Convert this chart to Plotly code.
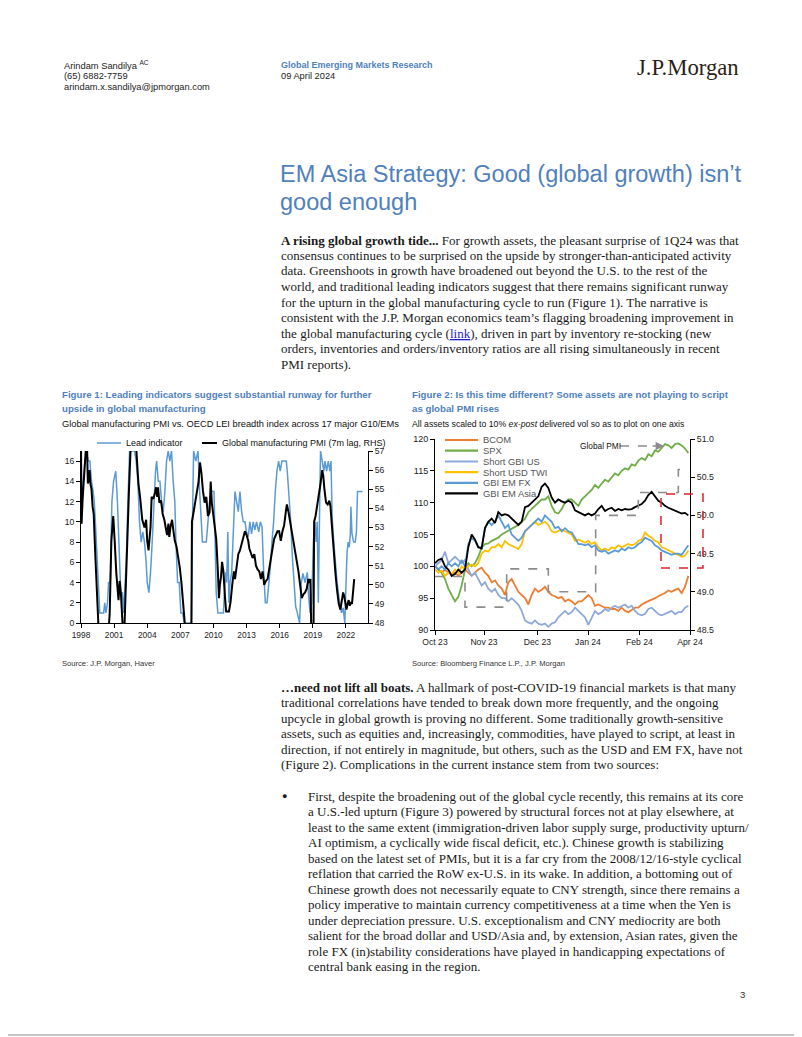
import plotly.graph_objects as go

W, H = 802, 1037          # browser window
OFF = 8                   # page body margin in front of the figure
FW, FH = W - OFF, H - OFF # figure size

# ---------------- Figure 1 data (OECD LEI breadth vs global PMI) ----------------
LEAD_YEAR = [1998.00, 1998.10, 1998.20, 1998.35, 1998.50, 1998.65, 1998.80, 1998.95, 1999.10, 1999.20,
             1999.30, 1999.45, 1999.55, 1999.70, 1999.90, 2000.05, 2000.15, 2000.25, 2000.40, 2000.50,
             2000.65, 2000.80, 2000.95, 2001.15, 2001.30, 2001.45, 2001.60, 2001.75, 2001.85, 2001.95,
             2002.10, 2002.25, 2002.40, 2002.60, 2002.85, 2003.00, 2003.15, 2003.30, 2003.45, 2003.60,
             2003.75, 2003.90, 2004.00, 2004.15, 2004.30, 2004.45, 2004.60, 2004.75, 2004.85, 2005.00,
             2005.15, 2005.30, 2005.45, 2005.60, 2005.75, 2005.90, 2006.05, 2006.20, 2006.35, 2006.50,
             2006.60, 2006.75, 2006.90, 2007.05, 2007.20, 2007.35, 2007.55, 2007.80, 2008.00, 2008.10,
             2008.20, 2008.40, 2008.60, 2008.75, 2008.85, 2009.00, 2009.20, 2009.35, 2009.50, 2009.65,
             2009.80, 2009.90, 2010.05, 2010.15, 2010.25, 2010.40, 2010.60, 2010.90, 2011.00, 2011.10,
             2011.20, 2011.30, 2011.40, 2011.50, 2011.65, 2011.80, 2011.95, 2012.10, 2012.25, 2012.40,
             2012.55, 2012.70, 2012.85, 2013.00, 2013.15, 2013.30, 2013.45, 2013.60, 2013.75, 2013.90,
             2014.10, 2014.25, 2014.40, 2014.55, 2014.70, 2014.85, 2015.00, 2015.15, 2015.30, 2015.45,
             2015.60, 2015.75, 2015.90, 2016.05, 2016.20, 2016.40, 2016.60, 2016.70, 2016.85, 2017.00,
             2017.15, 2017.30, 2017.45, 2017.60, 2017.80, 2017.95, 2018.10, 2018.30, 2018.50, 2018.60,
             2018.75, 2018.90, 2019.05, 2019.20, 2019.30, 2019.40, 2019.50, 2019.60, 2019.70, 2019.85,
             2020.00, 2020.10, 2020.25, 2020.40, 2020.55, 2020.65, 2020.75, 2020.90, 2021.05, 2021.20,
             2021.40, 2021.60, 2021.75, 2021.90, 2022.00, 2022.10, 2022.20, 2022.30, 2022.40, 2022.45,
             2022.55, 2022.70, 2022.85, 2022.95, 2023.05, 2023.25, 2023.50]
LEAD_VAL = [13.5, 12, 14, 16, 17, 16, 16, 14, 13, 12,
            10, 6, 4, 1, 1, 1, 2, 1, 2, 4,
            4, 12, 14, 15, 12, 8, 3, 3, 1, 3,
            6, 12, 17, 17, 17, 16, 14, 10, 8, 9,
            8, 6, 4, 3, 5, 8, 12, 15, 16, 14,
            14, 12, 11, 13, 16, 17, 16, 17, 14, 12,
            8, 4, 4, 1, 1, 0, 0, 0, 0, 10,
            17, 16, 17, 13, 11, 8, 8, 8, 10, 12,
            13, 13, 13, 8, 3, 1, 1, 1, 3, 5,
            4, 9, 2, 4, 5, 9, 13, 12, 11, 13,
            11, 10, 10, 9, 8.5, 10, 8.8, 10, 9.2, 10,
            9, 10, 9.5, 5, 2, 2, 3.6, 5.5, 8, 10,
            13, 15, 16, 15, 16, 16, 16, 14.8, 12.8, 10,
            6.5, 3.9, 1.6, 1, 0, 3.9, 4.9, 4, 5, 3,
            1, 2, 8, 10, 8, 10, 2, 10, 17, 16,
            15, 16, 15, 16, 15, 16, 10.5, 8, 6, 4,
            2.3, 1, 1.5, 0, 3.6, 7, 8, 7.5, 8.8, 11.5,
            8.8, 8, 8, 9, 13, 13, 13]

PMI_YEAR = [1998.00, 1998.05, 1998.15, 1998.25, 1998.35, 1998.45, 1998.55, 1998.62, 1998.70, 1998.78,
            1998.85, 1998.95, 1999.05, 1999.15, 1999.30, 1999.45, 1999.60, 1999.80, 2000.20, 2000.50,
            2000.60, 2000.75, 2000.92, 2001.05, 2001.20, 2001.40, 2001.50, 2001.62, 2001.70, 2001.85,
            2001.95, 2002.05, 2002.15, 2002.25, 2002.35, 2002.50, 2002.75, 2003.00, 2003.10, 2003.20,
            2003.35, 2003.55, 2003.75, 2003.90, 2004.00, 2004.12, 2004.22, 2004.30, 2004.40, 2004.55,
            2004.70, 2004.80, 2004.90, 2004.98, 2005.10, 2005.25, 2005.40, 2005.55, 2005.70, 2005.80,
            2005.92, 2006.00, 2006.10, 2006.25, 2006.40, 2006.50, 2006.65, 2006.80, 2006.95, 2007.10,
            2007.25, 2007.40, 2007.55, 2007.90, 2008.00, 2008.05, 2008.20, 2008.35, 2008.50, 2008.65,
            2008.78, 2008.90, 2009.05, 2009.20, 2009.35, 2009.50, 2009.65, 2009.75, 2009.85, 2010.00,
            2010.10, 2010.25, 2010.40, 2010.50, 2010.58, 2010.68, 2010.78, 2010.90, 2011.05, 2011.15,
            2011.40, 2011.55, 2011.70, 2011.85, 2011.95, 2012.10, 2012.25, 2012.40, 2012.55, 2012.70,
            2012.85, 2013.00, 2013.15, 2013.25, 2013.40, 2013.55, 2013.70, 2013.85, 2014.00, 2014.15,
            2014.30, 2014.45, 2014.60, 2014.75, 2014.90, 2015.05, 2015.20, 2015.35, 2015.50, 2015.65,
            2015.80, 2015.95, 2016.10, 2016.25, 2016.40, 2016.55, 2016.65, 2016.80, 2016.95, 2017.10,
            2017.25, 2017.40, 2017.55, 2017.70, 2017.85, 2018.00, 2018.15, 2018.30, 2018.45, 2018.60,
            2018.70, 2018.78, 2018.85, 2018.95, 2019.05, 2019.12, 2019.25, 2019.40, 2019.55, 2019.70,
            2019.85, 2019.95, 2020.05, 2020.20, 2020.35, 2020.50, 2020.60, 2020.70, 2020.80, 2020.90,
            2021.05, 2021.20, 2021.35, 2021.50, 2021.62, 2021.75, 2021.85, 2021.95, 2022.05, 2022.15,
            2022.25, 2022.35, 2022.45, 2022.55, 2022.65, 2022.75]
PMI_VAL = [57.5, 53.2, 54.5, 55.5, 56.8, 57.2, 57.2, 55.3, 55.5, 56.0,
           55.3, 55.0, 54.1, 53.7, 51.5, 49.7, 47.5, 45, 45, 47.5,
           48.5, 52.3, 53.6, 52.3, 50.6, 49.2, 50.2, 49.5, 48, 47,
           48, 50, 52.3, 53.2, 55, 57.2, 57.5, 57.2, 56.2, 55.3,
           54.6, 53.4, 53.0, 53.4, 52.3, 51.8, 52.5, 53.0, 54.6, 54.5,
           54.8, 55.1, 54.6, 55.1, 54.3, 54.4, 53.7, 53.4, 52.9, 52.6,
           53.2, 52.5, 53.0, 53.4, 52.7, 52.3, 52.0, 51.5, 50.9, 50.1,
           49.2, 48, 46, 46, 47.5, 53.3, 53.8, 54.3, 54.7, 55.4,
           56.4, 55.9, 54.9, 54.3, 54.6, 53.6, 53.8, 55.4, 54.3, 53.6,
           53.1, 52.4, 50.7, 49.3, 50, 50.4, 51.2, 50.7, 49.3, 48.6,
           48.6, 49.1, 50, 50.7, 50.3, 51, 51.6, 51.8, 52.1, 52.4,
           52.8, 52.6, 52.3, 51.9, 51.7, 51.4, 51.6, 51.0, 50.8, 50.7,
           50.3, 50.7, 50.0, 50.2, 50.3, 50.9, 51.4, 51.9, 52.4, 52.6,
           52.8, 52.8, 52.3, 52.8, 53.1, 53.8, 54.2, 53.8, 53.3, 52.9,
           52.3, 51.7, 51.2, 50.7, 50.0, 49.3, 49.5, 49.6, 49.8, 50.3,
           50.1, 50.3, 48.0, 46, 46, 53.3, 53.6, 54.1, 54.6, 55.3,
           56.0, 55.7, 55.0, 54.3, 54.2, 54.4, 54.1, 53.2, 52.3, 51.5,
           50.6, 49.7, 49.0, 48.7, 49.2, 49.6, 49.4, 49.0, 48.7, 49.0,
           49.2, 48.9, 49.1, 49.0, 49.7, 50.3]

F1_XTICKS = [1998, 2001, 2004, 2007, 2010, 2013, 2016, 2019, 2022]

# ---------------- Figure 2 data (rebased assets, Oct-23 to Apr-24) ----------------
BCOM = [100.0, 99.5, 99.0, 99.5, 99.0, 98.8, 99.0, 98.5, 99.0, 99.5,
        99.0, 98.5, 99.0, 99.5, 99.8, 99.0, 98.5, 97.5, 97.8, 97.0,
        96.5, 95.5, 97.5, 98.0, 97.0, 96.0, 95.5, 95.0, 94.0, 95.5,
        96.5, 96.0, 96.3, 96.8, 96.0, 95.5, 95.3, 95.0, 95.2, 94.5,
        94.8, 94.5, 94.0, 94.5, 94.5, 95.0, 95.5, 95.0, 93.8, 94.0,
        93.8, 93.5, 93.5, 93.3, 93.3, 93.0, 93.5, 93.0, 92.8, 93.2,
        93.5, 93.5, 94.0, 94.3, 94.5, 94.8, 95.0, 95.3, 95.5, 95.8,
        96.2, 96.0, 96.3, 96.5, 95.8, 96.8, 98.5]
SPX = [100.0, 99.5, 99.0, 98.0, 96.5, 95.5, 94.5, 95.2, 97.0, 99.5,
       100.5, 100.0, 100.5, 101.5, 103.0, 103.5, 103.6, 104.0, 104.3, 104.5,
       105.0, 105.3, 105.6, 106.0, 106.3, 106.5, 107.0, 107.5, 108.5, 109.0,
       109.5, 110.0, 110.5, 110.5, 111.0, 109.5, 108.5, 108.3, 109.0, 110.0,
       110.5, 110.5, 110.0, 109.5, 110.5, 111.0, 111.5, 112.0, 112.8, 112.3,
       113.0, 113.6, 113.3, 114.0, 114.6, 114.3, 115.0, 115.4, 115.2, 116.0,
       115.8, 116.6, 117.0, 116.7, 117.6, 117.3, 118.2, 118.0, 118.6, 119.2,
       119.0, 118.6, 119.2, 119.3, 119.0, 118.5, 117.8]
SHORT_GBI_US = [100.0, 100.5, 101.0, 102.3, 100.5, 101.0, 101.5, 101.0, 100.5, 101.0,
                99.5, 98.5, 99.0, 98.0, 97.0, 97.5, 96.5, 96.0, 96.5, 95.5,
                95.0, 95.0, 94.5, 95.0, 94.5, 94.0, 93.0, 91.5, 91.2, 91.0,
                91.5, 91.0, 90.8, 91.0, 90.5, 91.0, 91.2, 92.0, 92.5, 93.0,
                92.5, 92.8, 93.5, 93.0, 92.5, 92.0, 90.8, 91.8, 93.0, 92.5,
                92.8, 93.3, 93.0, 93.5, 93.8, 93.5, 93.8, 94.0, 93.5, 93.8,
                93.0, 92.5, 92.3, 92.5, 93.3, 93.5, 93.0, 92.5, 92.3, 92.5,
                92.8, 93.0, 92.5, 92.8, 92.8, 93.5, 93.8]
SHORT_USD_TWI = [99.5, 99.0, 99.3, 98.5, 99.0, 98.8, 99.5, 99.0, 100.0, 99.5,
                 100.0, 100.3, 100.0, 100.5, 102.0, 102.5, 102.3, 103.0, 103.0, 103.5,
                 103.0, 104.0, 103.5, 103.3, 103.0, 102.7, 103.5, 105.5, 106.0, 106.5,
                 107.0, 106.5, 106.8, 107.0, 106.5, 105.5, 105.3, 105.5, 105.8, 105.5,
                 105.2, 105.0, 104.0, 104.2, 104.0, 103.7, 104.0, 103.5, 103.8, 103.0,
                 102.5, 102.8, 102.5, 103.0, 102.8, 103.3, 103.0, 103.3, 103.5, 103.3,
                 103.5, 104.0, 104.2, 105.3, 104.8, 104.5, 104.0, 103.8, 103.0, 102.8,
                 102.5, 102.2, 102.0, 101.8, 101.5, 101.7, 102.5]
GBI_EM_FX = [100.0, 99.5, 100.0, 99.5, 100.5, 100.0, 100.5, 100.0, 101.0, 100.0,
             103.5, 104.5, 104.0, 103.0, 103.0, 106.0, 107.0, 106.5, 107.0, 108.0,
             107.0, 106.0, 106.5, 105.0, 104.5, 104.0, 104.5, 105.5, 106.0, 106.5,
             107.0, 107.5, 107.0, 108.0, 107.5, 107.0, 106.0, 106.2, 105.5, 106.0,
             105.5, 105.3, 104.5, 103.5, 103.5, 103.3, 103.5, 103.0, 103.3, 102.5,
             102.3, 102.5, 102.0, 102.3, 102.5, 102.3, 102.8, 102.5, 103.0, 102.8,
             103.0, 103.5, 103.8, 104.5, 104.3, 104.0, 103.3, 103.0, 102.5, 102.3,
             102.0, 101.8, 102.0, 102.0, 101.8, 102.5, 103.3]
GBI_EM_ASIA = [100.5, 101.0, 101.2, 100.0, 99.5, 98.5, 98.8, 99.5, 99.0, 99.5,
               103.0, 105.0, 104.2, 103.0, 102.8, 106.0, 107.0, 107.5, 106.8, 108.5,
               108.0, 108.2, 108.0, 107.5, 107.0, 106.5, 107.0, 109.3, 109.5, 110.0,
               110.5, 111.0, 112.5, 113.0, 112.3, 110.8, 110.0, 110.5, 110.2, 110.0,
               110.3, 110.0, 108.8, 108.5, 108.3, 108.0, 108.3, 108.0, 108.3, 109.0,
               109.5, 108.7, 109.0, 109.2, 108.7, 109.0, 108.8, 109.0, 108.9, 109.0,
               109.3, 109.5, 109.8, 110.3, 111.2, 111.7, 111.0, 110.3, 110.0, 109.5,
               109.2, 109.0, 108.7, 108.6, 108.3, 108.4, 108.0]
OBS = list(range(len(BCOM)))

# Global PMI monthly prints (Sep-23 .. Mar-24) and the observation where each takes effect
PMI_STEP_OBS = [0, 9, 21.5, 34, 48.2, 61, 73, 76]
PMI_STEP_VAL = [49.2, 48.8, 49.3, 49.0, 50.0, 50.3, 50.6, 50.6]

F2_TICK_OBS = [0, 14.7, 30.7, 45.9, 61.3, 76.5]
F2_TICK_TXT = ["Oct 23", "Nov 23", "Dec 23", "Jan 24", "Feb 24", "Apr 24"]

F2_NAMES = ["BCOM", "SPX", "Short GBI US", "Short USD TWI", "GBI EM FX", "GBI EM Asia"]
F2_COLORS = ["#ED7D31", "#70AD47", "#8EA9DB", "#FFC000", "#5B9BD5", "#000000"]

# ---------------- helpers ----------------
SANS = "Liberation Sans, Arial, sans-serif"
SERIF = "Liberation Serif, Times New Roman, serif"
BLUE_T = "#4F81BD"


def px(x):
    return (x - OFF) / FW


def py(y):
    return 1 - (y - OFF) / FH


annotations = []
shapes = []


def txt(x, y, s, size, color="#000000", family=SANS, xanchor="left"):
    annotations.append(dict(x=px(x), y=py(y), xref="paper", yref="paper", text=s, showarrow=False,
                            xanchor=xanchor, yanchor="middle", align="left",
                            font=dict(size=size, color=color, family=family)))


def hline(x0, x1, y, color, width, dash="solid"):
    shapes.append(dict(type="line", xref="paper", yref="paper", x0=px(x0), x1=px(x1), y0=py(y), y1=py(y),
                       line=dict(color=color, width=width, dash=dash)))


fig = go.Figure()

# Figure 1 traces
fig.add_trace(go.Scatter(x=LEAD_YEAR, y=LEAD_VAL, mode="lines", line=dict(color="#5B9BD5", width=1.5),
                         xaxis="x", yaxis="y", name="Lead indicator"))
fig.add_trace(go.Scatter(x=PMI_YEAR, y=PMI_VAL, mode="lines", line=dict(color="#000000", width=2),
                         xaxis="x", yaxis="y2", name="Global manufacturing PMI (7m lag, RHS)"))

# Figure 2 traces
fig.add_trace(go.Scatter(x=PMI_STEP_OBS, y=PMI_STEP_VAL, mode="lines", line_shape="hv",
                         line=dict(color="#8C8C8C", width=1.6, dash="dash"),
                         xaxis="x2", yaxis="y4", name="Global PMI"))
for series, name, col in zip([BCOM, SPX, SHORT_GBI_US, SHORT_USD_TWI, GBI_EM_FX, GBI_EM_ASIA],
                             F2_NAMES, F2_COLORS):
    fig.add_trace(go.Scatter(x=OBS, y=series, mode="lines", line=dict(color=col, width=1.8),
                             xaxis="x2", yaxis="y3", name=name))


def axis_common(fs):
    return dict(showgrid=False, zeroline=False, showline=True, linecolor="#000000", linewidth=1,
                ticks="outside", ticklen=4, tickcolor="#000000", automargin=False,
                tickfont=dict(family=SANS, size=fs, color="#222222"))


fig.update_layout(
    width=FW, height=FH, margin=dict(l=0, r=0, t=0, b=0, autoexpand=False),
    paper_bgcolor="white", plot_bgcolor="white", showlegend=False,
    xaxis=dict(domain=[px(81), px(368)], range=[1998, 2024], tickvals=F1_XTICKS, anchor="y", **axis_common(8.4)),
    yaxis=dict(domain=[py(623), py(451)], range=[0, 17], tickvals=list(range(0, 17, 2)), anchor="x",
               **axis_common(8.6)),
    yaxis2=dict(overlaying="y", side="right", range=[48, 57], tickvals=list(range(48, 58)), anchor="x",
                **axis_common(8.6)),
    xaxis2=dict(domain=[px(435), px(690)], range=[0, 76.5], tickvals=F2_TICK_OBS, ticktext=F2_TICK_TXT,
                anchor="y3", **axis_common(8.6)),
    yaxis3=dict(domain=[py(630), py(439)], range=[90, 120], tickvals=[90, 95, 100, 105, 110, 115, 120],
                anchor="x2", **axis_common(9)),
    yaxis4=dict(overlaying="y3", side="right", range=[48.5, 51.0], tickvals=[48.5, 49, 49.5, 50, 50.5, 51],
                tickformat=".1f", anchor="x2", **axis_common(8.8)),
)

# ---------------- page header ----------------
txt(62, 65, "Arindam Sandilya <sup>AC</sup>", 9.3, "#222222")
txt(62, 76, "(65) 6882-7759", 9.3, "#222222")
txt(62, 87, "arindam.x.sandilya@jpmorgan.com", 9.3, "#222222")
txt(279, 65, "<b>Global Emerging Markets Research</b>", 9, BLUE_T)
txt(279, 76, "09 April 2024", 9.3, "#222222")
txt(741, 68, "J.P.Morgan", 22.7, "#2B1E16", SERIF, xanchor="right")

# title
txt(278, 174, "EM Asia Strategy: Good (global growth) isn’t", 23.5, BLUE_T)
txt(278, 202, "good enough", 23.5, BLUE_T)

# first body paragraph
BODY_FS = 13
body1 = [
    "<b>A rising global growth tide...</b> For growth assets, the pleasant surprise of 1Q24 was that",
    "consensus continues to be surprised on the upside by stronger-than-anticipated activity",
    "data. Greenshoots in growth have broadened out beyond the U.S. to the rest of the",
    "world, and traditional leading indicators suggest that there remains significant runway",
    "for the upturn in the global manufacturing cycle to run (Figure 1). The narrative is",
    "consistent with the J.P. Morgan economics team’s flagging broadening improvement in",
    "the global manufacturing cycle (<span style='color:#1F1FCC'><u>link</u></span>), driven in part by inventory re-stocking (new",
    "orders, inventories and orders/inventory ratios are all rising simultaneously in recent",
    "PMI reports).",
]
for i, line in enumerate(body1):
    txt(279, 240 + i * 15.5, line, BODY_FS, "#1A1A1A", SERIF)

# figure titles
txt(60, 394, "<b>Figure 1: Leading indicators suggest substantial runway for further</b>", 9.7, BLUE_T)
txt(60, 408, "<b>upside in global manufacturing</b>", 9.7, BLUE_T)
txt(60, 424, "Global manufacturing PMI vs. OECD LEI breadth index across 17 major G10/EMs", 9.3, "#111111")
txt(60, 663, "Source: J.P. Morgan, Haver", 7.6, "#333333")

txt(410, 394, "<b>Figure 2: Is this time different? Some assets are not playing to script</b>", 9.7, BLUE_T)
txt(410, 408, "<b>as global PMI rises</b>", 9.7, BLUE_T)
txt(410, 424, "All assets scaled to 10% <i>ex-post</i> delivered vol so as to plot on one axis", 8.7, "#111111")
txt(410, 663, "Source: Bloomberg Finance L.P., J.P. Morgan", 7.6, "#333333")

# Figure 1 legend
hline(97, 121, 443, "#5B9BD5", 1.5)
txt(124, 443, "Lead indicator", 9, "#111111")
hline(202, 217, 443, "#000000", 2)
txt(220, 443, "Global manufacturing PMI (7m lag, RHS)", 9, "#111111")

# Figure 2 legend
leg_y = [440, 450.7, 461.5, 472.2, 482.8, 493.4]
for name, col, yy in zip(F2_NAMES, F2_COLORS, leg_y):
    hline(445, 478, yy, col, 2.2)
    txt(481, yy, name, 9.4, "#555555")

# Global PMI label with dashed arrow
txt(578, 446, "Global PMI", 8.3, "#111111")
hline(620, 652, 446, "#8C8C8C", 1.4, "dash")
annotations.append(dict(x=px(664), y=py(446), xref="paper", yref="paper", ax=-13, ay=0, axref="pixel",
                        ayref="pixel", showarrow=True, arrowhead=2, arrowsize=1.2, arrowwidth=1.4,
                        arrowcolor="#8C8C8C", text=""))

# red dashed highlight box
shapes.append(dict(type="rect", xref="paper", yref="paper", x0=px(661), x1=px(703), y0=py(568), y1=py(494),
                   line=dict(color="#E0202C", width=1.5, dash="dash")))

# second body paragraph
body2 = [
    "<b>…need not lift all boats.</b> A hallmark of post-COVID-19 financial markets is that many",
    "traditional correlations have tended to break down more frequently, and the ongoing",
    "upcycle in global growth is proving no different. Some traditionally growth-sensitive",
    "assets, such as equities and, increasingly, commodities, have played to script, at least in",
    "direction, if not entirely in magnitude, but others, such as the USD and EM FX, have not",
    "(Figure 2). Complications in the current instance stem from two sources:",
]
for i, line in enumerate(body2):
    txt(279, 687 + i * 15.5, line, BODY_FS, "#1A1A1A", SERIF)

txt(280, 796, "●", 9, "#1A1A1A")
bullet = [
    "First, despite the broadening out of the global cycle recently, this remains at its core",
    "a U.S.-led upturn (Figure 3) powered by structural forces not at play elsewhere, at",
    "least to the same extent (immigration-driven labor supply surge, productivity upturn/",
    "AI optimism, a cyclically wide fiscal deficit, etc.). Chinese growth is stabilizing",
    "based on the latest set of PMIs, but it is a far cry from the 2008/12/16-style cyclical",
    "reflation that carried the RoW ex-U.S. in its wake. In addition, a bottoming out of",
    "Chinese growth does not necessarily equate to CNY strength, since there remains a",
    "policy imperative to maintain currency competitiveness at a time when the Yen is",
    "under depreciation pressure. U.S. exceptionalism and CNY mediocrity are both",
    "salient for the broad dollar and USD/Asia and, by extension, Asian rates, given the",
    "role FX (in)stability considerations have played in handicapping expectations of",
    "central bank easing in the region.",
]
for i, line in enumerate(bullet):
    txt(306, 796 + i * 15.5, line, BODY_FS, "#1A1A1A", SERIF)

# page number
txt(738, 994, "3", 9.5, "#333333")

# page frame (right and bottom edges of the page)
for (x0, y0, x1, y1) in [(800.5, 8, 800.5, 1035), (8, 1035, 800.5, 1035)]:
    shapes.append(dict(type="line", xref="paper", yref="paper", x0=px(x0), x1=px(x1), y0=py(y0), y1=py(y1),
                       line=dict(color="#8A8A8A", width=1)))

fig.update_layout(annotations=annotations, shapes=shapes)
fig.write_html("out.html")
